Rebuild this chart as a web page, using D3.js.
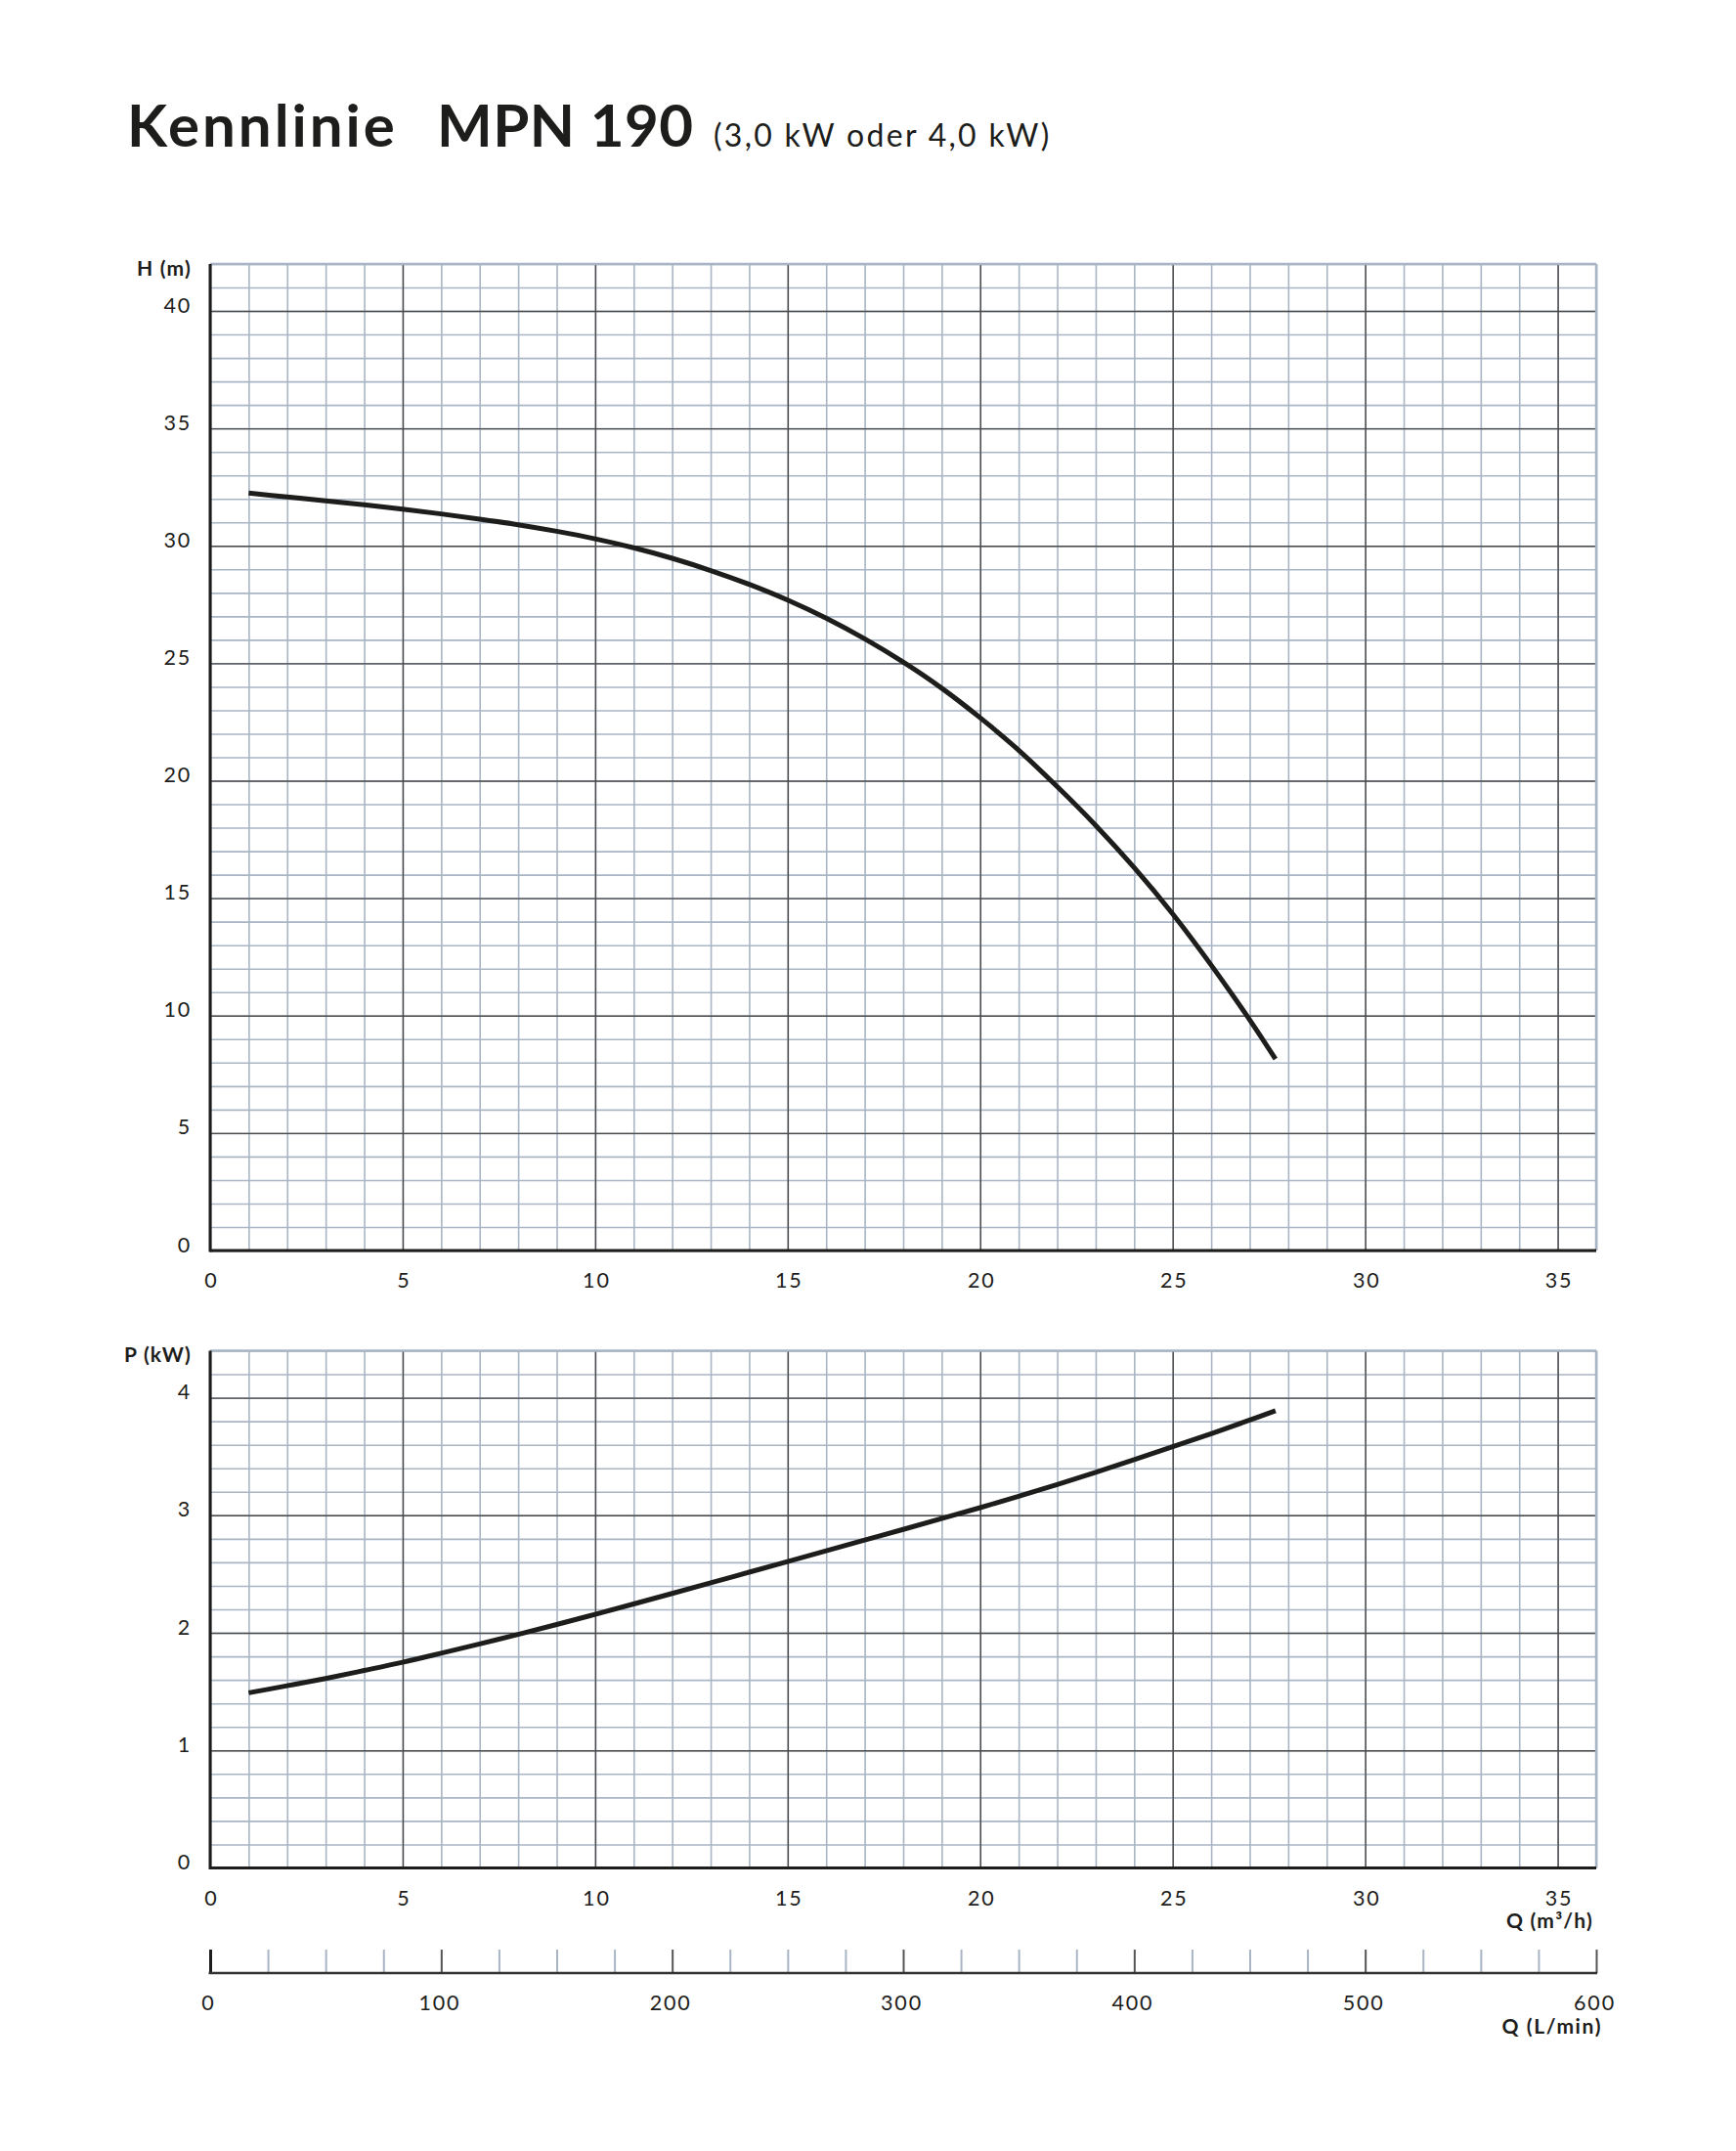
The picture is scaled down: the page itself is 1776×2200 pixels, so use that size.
<!DOCTYPE html>
<html>
<head>
<meta charset="utf-8">
<script src="https://cdn.jsdelivr.net/npm/d3@7"></script>
<style>
body { margin: 0; background: #fff; }
svg { display: block; }
</style>
</head>
<body>
<svg id="chart"></svg>
<script>
var flowQ  = [1, 2, 3, 4, 5, 6, 7, 8, 9, 10, 11, 12, 13, 14, 15, 16, 17, 18, 19, 20, 21, 22, 23, 24, 25, 26, 27, 27.67];
var headH  = [32.25, 32.08, 31.92, 31.75, 31.56, 31.36, 31.14, 30.9, 30.62, 30.3, 29.92, 29.47, 28.95, 28.36, 27.69, 26.92, 26.04, 25.05, 23.94, 22.68, 21.3, 19.75, 18.1, 16.3, 14.33, 12.15, 9.82, 8.15];
var powerP = [1.49, 1.55, 1.612, 1.68, 1.75, 1.827, 1.906, 1.987, 2.071, 2.158, 2.246, 2.335, 2.425, 2.516, 2.607, 2.698, 2.789, 2.88, 2.972, 3.065, 3.162, 3.262, 3.366, 3.473, 3.583, 3.695, 3.81, 3.89];

var hTicks    = [0, 5, 10, 15, 20, 25, 30, 35, 40];
var pTicks    = [0, 1, 2, 3, 4];
var qTicks    = [0, 5, 10, 15, 20, 25, 30, 35];
var lminTicks = [0, 100, 200, 300, 400, 500, 600];

var width = 1776, height = 2200;
var left = 215, right = 1633;
var fontFam = "Lato, 'Open Sans', 'DejaVu Sans', sans-serif";
var minorCol = "#a9b5c4", majorCol = "#4a4a4a", ink = "#1d1d1b";

var svg = d3.select("#chart").attr("width", width).attr("height", height);

var x  = d3.scaleLinear().domain([0, 36]).range([left, right]);
var yH = d3.scaleLinear().domain([0, 42]).range([1279, 270]);
var yP = d3.scaleLinear().domain([0, 4.4]).range([1910.5, 1381.5]);
var xL = d3.scaleLinear().domain([0, 600]).range([left, right]);

// title
svg.append("text").attr("x", 130).attr("y", 150)
    .attr("font-family", fontFam).attr("font-weight", 700).attr("font-size", 60).attr("fill", ink)
    .attr("letter-spacing", 3).text("Kennlinie");
svg.append("text").attr("x", 447).attr("y", 150)
    .attr("font-family", fontFam).attr("font-weight", 700).attr("font-size", 60).attr("fill", ink)
    .attr("letter-spacing", 0.5).text("MPN 190");
svg.append("text").attr("x", 730).attr("y", 150)
    .attr("font-family", fontFam).attr("font-size", 32).attr("fill", ink)
    .attr("letter-spacing", 2.3).text("(3,0 kW oder 4,0 kW)");

function boldLabel(xp, yp, txt, ls) {
    svg.append("text").attr("x", xp).attr("y", yp).attr("text-anchor", "end")
        .attr("font-family", fontFam).attr("font-weight", 700).attr("font-size", 21).attr("fill", ink)
        .attr("letter-spacing", ls).text(txt);
}

function styleLabels(sel) {
    sel.select(".domain").remove();
    sel.attr("font-family", fontFam).attr("font-size", 21.5).attr("letter-spacing", 1.8);
    sel.selectAll("text").attr("dy", "0").attr("fill", ink);
}

function drawPanel(y, yMax, yStep, yMajor, yLabel, labelY, values) {
    var y0 = y.range()[0], y1 = y.range()[1];
    var g = svg.append("g");

    // minor grid
    g.append("g").attr("transform", "translate(0," + y0 + ")")
        .call(d3.axisBottom(x).tickValues(d3.range(0, 36.01, 1)).tickSize(-(y0 - y1)).tickFormat(""))
        .call(function(s){ s.select(".domain").remove(); })
        .selectAll("line").attr("stroke", minorCol).attr("stroke-width", 1.6);
    g.append("g").attr("transform", "translate(" + left + ",0)")
        .call(d3.axisLeft(y).tickValues(d3.range(0, yMax + 0.001, yStep)).tickSize(-(right - left)).tickFormat(""))
        .call(function(s){ s.select(".domain").remove(); })
        .selectAll("line").attr("stroke", minorCol).attr("stroke-width", 1.6);

    // major grid
    g.append("g").attr("transform", "translate(0," + y0 + ")")
        .call(d3.axisBottom(x).tickValues(qTicks).tickSize(-(y0 - y1)).tickFormat(""))
        .call(function(s){ s.select(".domain").remove(); })
        .selectAll("line").attr("stroke", majorCol).attr("stroke-width", 1.4);
    g.append("g").attr("transform", "translate(" + left + ",0)")
        .call(d3.axisLeft(y).tickValues(yMajor).tickSize(-(right - left)).tickFormat(""))
        .call(function(s){ s.select(".domain").remove(); })
        .selectAll("line").attr("stroke", majorCol).attr("stroke-width", 1.4);

    // outer frame: light top/right, heavy left/bottom
    g.append("line").attr("x1", x(0)).attr("x2", x(36)).attr("y1", y(yMax)).attr("y2", y(yMax))
        .attr("stroke", minorCol).attr("stroke-width", 2.5);
    g.append("line").attr("x1", x(36)).attr("x2", x(36)).attr("y1", y(0)).attr("y2", y(yMax))
        .attr("stroke", minorCol).attr("stroke-width", 2.5);
    g.append("line").attr("x1", x(0)).attr("x2", x(0)).attr("y1", y(0) + 1.5).attr("y2", y(yMax))
        .attr("stroke", ink).attr("stroke-width", 3);
    g.append("line").attr("x1", x(0)).attr("x2", x(36)).attr("y1", y(0)).attr("y2", y(0))
        .attr("stroke", ink).attr("stroke-width", 3);

    // tick labels
    var ya = g.append("g").attr("transform", "translate(" + left + ",0)")
        .call(d3.axisLeft(y).tickValues(yMajor).tickSize(0).tickPadding(19).tickFormat(d3.format("d")));
    styleLabels(ya);
    ya.selectAll("text").attr("y", 1);

    var xa = g.append("g").attr("transform", "translate(0," + y0 + ")")
        .call(d3.axisBottom(x).tickValues(qTicks).tickSize(0).tickPadding(38));
    styleLabels(xa);
    xa.selectAll("text").attr("dx", 1);

    boldLabel(196, labelY, yLabel, 1.2);

    // curve
    var line = d3.line()
        .x(function(d, i){ return x(flowQ[i]); })
        .y(function(d){ return y(d); })
        .curve(d3.curveCatmullRom.alpha(0.5));
    g.append("path").datum(values).attr("d", line)
        .attr("fill", "none").attr("stroke", ink).attr("stroke-width", 5);
}

drawPanel(yH, 42, 1, hTicks, "H (m)", 282, headH);
drawPanel(yP, 4.4, 0.2, pTicks, "P (kW)", 1393, powerP);

boldLabel(1630, 1972, "Q (m³/h)", 1.2);

// L/min axis
var baseY = 2018;
var la = svg.append("g").attr("transform", "translate(0," + baseY + ")")
    .call(d3.axisBottom(xL).tickValues(d3.range(0, 600.1, 25)).tickSize(-24).tickPadding(38)
        .tickFormat(function(d){ return lminTicks.indexOf(d) >= 0 ? d : ""; }));
styleLabels(la);
la.selectAll("text").attr("dx", -2);
la.selectAll(".tick line")
    .attr("stroke", function(d){ return d === 0 ? ink : (d % 100 === 0 ? "#555" : minorCol); })
    .attr("stroke-width", function(d){ return d === 0 ? 3 : 2; });
svg.append("line").attr("x1", xL(0) - 1.5).attr("x2", xL(600) + 1).attr("y1", baseY).attr("y2", baseY)
    .attr("stroke", "#333").attr("stroke-width", 2.5);

boldLabel(1639, 2080, "Q (L/min)", 1.6);
</script>
</body>
</html>
